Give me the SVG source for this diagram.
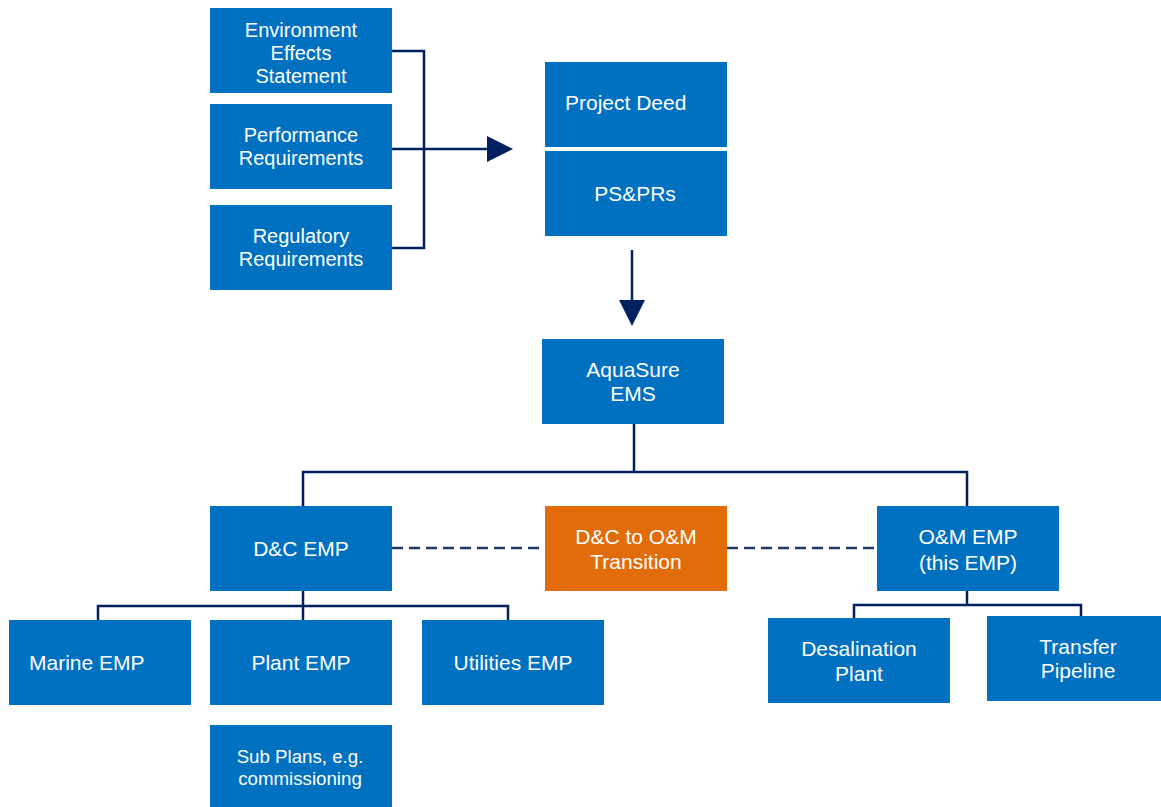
<svg xmlns="http://www.w3.org/2000/svg" width="1161" height="807" viewBox="0 0 1161 807">
<defs>
<style>
.box{fill:#0070C0}
.orange{fill:#E36C0A}
.t{fill:#fff;font-family:"Liberation Sans",Arial,sans-serif;font-size:21px;text-anchor:middle}
.m{font-size:20px}
.s{font-size:18.7px}
.ln{fill:none;stroke:#002060;stroke-width:2.5}
.dash{fill:none;stroke:#1F3864;stroke-width:2.5;stroke-dasharray:11 6}
.ah{fill:#002060}
</style>
</defs>
<rect width="1161" height="807" fill="#fff"/>
<g id="connectors">
<polyline class="ln" points="392,51 424,51 424,248 392,248"/>
<line class="ln" x1="392" y1="149" x2="490" y2="149"/>
<polygon class="ah" points="487,136 513,149 487,162"/>
<line class="ln" x1="632" y1="250" x2="632" y2="302"/>
<polygon class="ah" points="619,300 645,300 632,326"/>
<line class="ln" x1="634" y1="424" x2="634" y2="472"/>
<polyline class="ln" points="303,506 303,472 967,472 967,506"/>
<line class="dash" x1="392" y1="548" x2="545" y2="548"/>
<line class="dash" x1="727" y1="548" x2="877" y2="548"/>
<line class="ln" x1="303" y1="591" x2="303" y2="620"/>
<polyline class="ln" points="98,620 98,606 508,606 508,620"/>
<line class="ln" x1="967" y1="591" x2="967" y2="605"/>
<polyline class="ln" points="854,618 854,605 1081,605 1081,616"/>
</g>
<g id="ees"><rect class="box" x="210" y="8" width="182" height="85"/><text class="t m" x="301" y="37">Environment</text><text class="t m" x="301" y="60">Effects</text><text class="t m" x="301" y="83">Statement</text></g>
<g id="perf"><rect class="box" x="210" y="104" width="182" height="85"/><text class="t m" x="301" y="142">Performance</text><text class="t m" x="301" y="165">Requirements</text></g>
<g id="reg"><rect class="box" x="210" y="205" width="182" height="85"/><text class="t m" x="301" y="243">Regulatory</text><text class="t m" x="301" y="266">Requirements</text></g>
<g id="deed"><rect class="box" x="545" y="62" width="182" height="85"/><text class="t" x="565" y="110" style="text-anchor:start">Project Deed</text></g>
<g id="psprs"><rect class="box" x="545" y="151" width="182" height="85"/><text class="t" x="635" y="201">PS&amp;PRs</text></g>
<g id="ems"><rect class="box" x="542" y="339" width="182" height="85"/><text class="t" x="633" y="377">AquaSure</text><text class="t" x="633" y="401">EMS</text></g>
<g id="dc"><rect class="box" x="210" y="506" width="182" height="85"/><text class="t" x="301" y="556">D&amp;C EMP</text></g>
<g id="transition"><rect class="orange" x="545" y="506" width="182" height="85"/><text class="t" x="636" y="544">D&amp;C to O&amp;M</text><text class="t" x="636" y="569">Transition</text></g>
<g id="om"><rect class="box" x="877" y="506" width="182" height="85"/><text class="t" x="968" y="544">O&amp;M EMP</text><text class="t" x="968" y="570">(this EMP)</text></g>
<g id="marine"><rect class="box" x="9" y="620" width="182" height="85"/><text class="t" x="29" y="670" style="text-anchor:start">Marine EMP</text></g>
<g id="plant"><rect class="box" x="210" y="620" width="182" height="85"/><text class="t" x="301" y="670">Plant EMP</text></g>
<g id="utilities"><rect class="box" x="422" y="620" width="182" height="85"/><text class="t" x="513" y="670">Utilities EMP</text></g>
<g id="subplans"><rect class="box" x="210" y="725" width="182" height="82"/><text class="t s" x="300" y="763">Sub Plans, e.g.</text><text class="t s" x="300" y="785">commissioning</text></g>
<g id="desal"><rect class="box" x="768" y="618" width="182" height="85"/><text class="t" x="859" y="656">Desalination</text><text class="t" x="859" y="681">Plant</text></g>
<g id="transfer"><rect class="box" x="987" y="616" width="174" height="85"/><text class="t" x="1078" y="654">Transfer</text><text class="t" x="1078" y="678">Pipeline</text></g>
</svg>
